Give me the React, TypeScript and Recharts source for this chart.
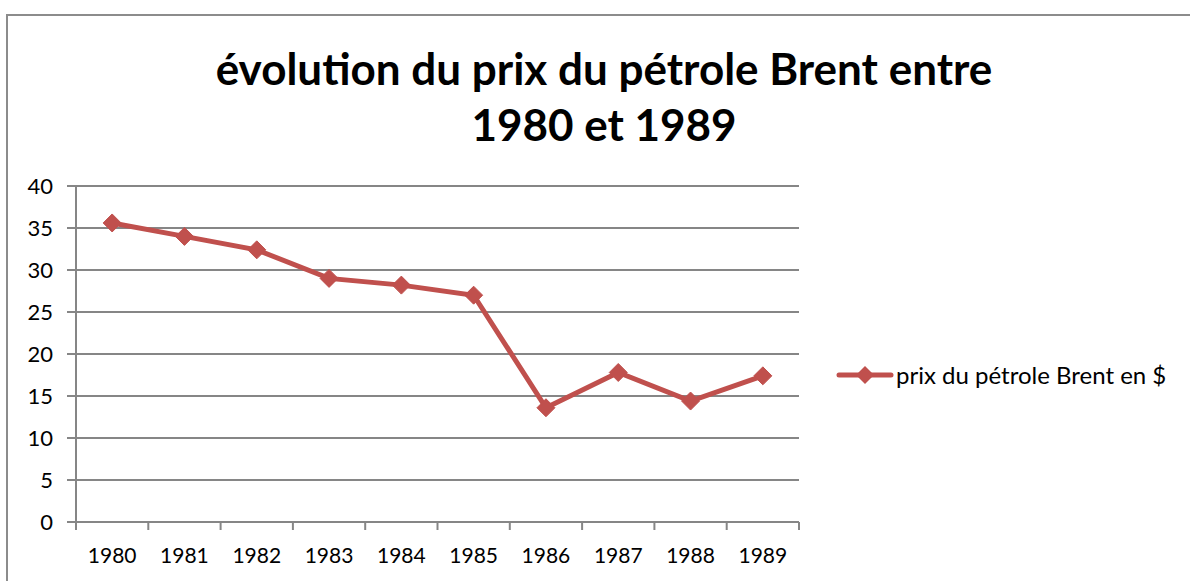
import React from "react";
import { LineChart, Line, XAxis, YAxis, CartesianGrid } from "recharts";

const years = ["1980", "1981", "1982", "1983", "1984", "1985", "1986", "1987", "1988", "1989"];
const prices = [35.6, 34.0, 32.4, 29.0, 28.2, 27.0, 13.6, 17.8, 14.4, 17.4];
const yTicks = [0, 5, 10, 15, 20, 25, 30, 35, 40];

const seriesName = "prix du pétrole Brent en $";
const data = years.map((year, i) => ({ year, price: prices[i] }));

const FONT = "Lato, Carlito, Calibri, sans-serif";
const RED = "#c0504d";
const GRID = "#868686";
const BAND = 723 / years.length;

function Diamond(props: any) {
  const { cx, cy } = props;
  if (cx == null || cy == null) return null;
  const r = 9;
  return (
    <polygon
      points={`${cx},${cy - r} ${cx + r},${cy} ${cx},${cy + r} ${cx - r},${cy}`}
      fill={RED}
      stroke={RED}
    />
  );
}

// category labels centred, tick marks on the band boundaries (Excel style)
function YearTick(props: any) {
  const { x, y, payload, index } = props;
  const left = x - BAND / 2;
  return (
    <g>
      <line x1={left} y1={y} x2={left} y2={y + 8} stroke={GRID} strokeWidth={2} />
      {index === years.length - 1 && (
        <line x1={x + BAND / 2} y1={y} x2={x + BAND / 2} y2={y + 8} stroke={GRID} strokeWidth={2} />
      )}
      <text x={x} y={y + 41} textAnchor="middle" fontSize={21} fontFamily={FONT} fill="#000">
        {payload.value}
      </text>
    </g>
  );
}

export default function App() {
  return (
    <div style={{ position: "absolute", left: 0, top: 0, width: 1190, height: 581, overflow: "hidden", background: "#fff" }}>
      <div
        style={{
          position: "absolute",
          left: 6,
          top: 14,
          width: 1200,
          height: 600,
          borderTop: "2px solid #8c8c8c",
          borderLeft: "2px solid #8c8c8c",
        }}
      />
      <div
        style={{
          position: "absolute",
          left: 0,
          top: 40,
          width: 1208,
          textAlign: "center",
          fontFamily: FONT,
          fontWeight: 700,
          fontSize: 44,
          lineHeight: "56px",
          color: "#000",
        }}
      >
        évolution du prix du pétrole Brent entre
        <br />
        1980 et 1989
      </div>
      <div style={{ position: "absolute", left: 0, top: 0 }}>
        <LineChart width={1190} height={581} data={data} margin={{ top: 186, right: 391, bottom: 0, left: 0 }}>
          <CartesianGrid vertical={false} stroke={GRID} strokeWidth={2} />
          <XAxis
            dataKey="year"
            scale="band"
            tick={<YearTick />}
            tickLine={false}
            tickSize={0}
            tickMargin={0}
            axisLine={{ stroke: GRID, strokeWidth: 2 }}
            interval={0}
            height={59}
          />
          <YAxis
            domain={[0, 40]}
            ticks={yTicks}
            width={76}
            tickSize={9}
            tickMargin={14}
            tickLine={{ stroke: GRID, strokeWidth: 2 }}
            axisLine={{ stroke: GRID, strokeWidth: 2 }}
            tick={{ fontSize: 22, fontFamily: FONT, fill: "#000" }}
          />
          <Line
            type="linear"
            dataKey="price"
            name={seriesName}
            stroke={RED}
            strokeWidth={5}
            dot={<Diamond />}
            activeDot={false}
            isAnimationActive={false}
          />
        </LineChart>
      </div>
      <div
        style={{
          position: "absolute",
          left: 836,
          top: 360,
          display: "flex",
          alignItems: "center",
          fontFamily: FONT,
          fontSize: 24,
          whiteSpace: "nowrap",
        }}
      >
        <svg width={58} height={20}>
          <line x1={3} y1={10} x2={55} y2={10} stroke={RED} strokeWidth={5} strokeLinecap="round" />
          <polygon points="29,1 38,10 29,19 20,10" fill={RED} />
        </svg>
        <span style={{ marginLeft: 2, color: "#000" }}>{seriesName}</span>
      </div>
    </div>
  );
}
